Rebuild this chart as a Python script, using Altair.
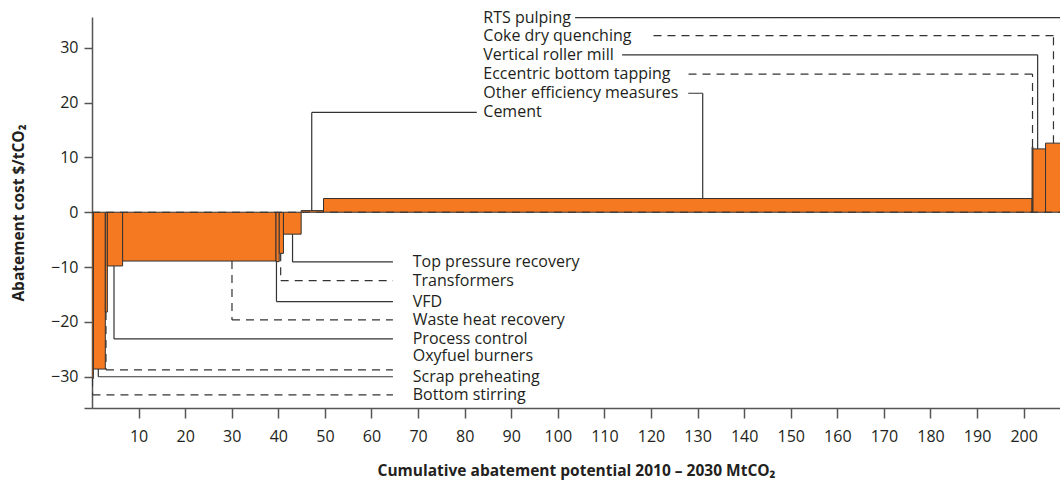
import altair as alt
import pandas as pd
import numpy as np

# ---- Bars (marginal abatement cost curve) ----
measures = ["Bottom stirring", "Scrap preheating", "Oxyfuel burners", "Process control",
            "Waste heat recovery", "VFD", "Transformers", "Top pressure recovery", "Cement",
            "Other efficiency measures", "Eccentric bottom tapping", "Vertical roller mill",
            "Coke dry quenching", "RTS pulping"]
potential = [0.3, 2.56, 0.44, 3.27, 32.93, 0.7, 0.9, 3.8, 4.8, 152.1, 0.2, 2.7, 4.0, 3.0]
cost = [-30.3, -28.6, -18.2, -9.8, -8.9, -9.0, -7.5, -4.0, 0.3, 2.5, 11.9, 11.55, 12.6, 14.0]

# ---- Annotation (label) layout, in data units ----
label_y = [-33.3, -30.0, -28.75, -23.1, -19.64, -16.3, -12.47, -9.06,
           18.2, 21.7, 25.2, 28.7, 32.2, 35.5]
text_y = [-33.3, -30.0, -26.2, -23.1, -19.64, -16.3, -12.47, -9.06,
          18.2, 21.7, 25.2, 28.7, 32.2, 35.5]
leader_x = [0.1, 1.35, 3.0, 4.72, 30.05, 39.6, 40.5, 43.05,
            47.17, 131.1, 201.9, 203.0, 206.4, 209.5]
leader_end = [64.6] * 8 + [82.6, 128.0, 127.3, 113.8, 119.8, 103.7]
text_x = [68.85] * 8 + [84.0] * 6
dashed = [True, False, True, False, True, False, True, False,
          False, False, True, False, True, False]

x_ticks = list(range(10, 201, 10))
y_ticks = [-35.7, -30, -20, -10, 0, 10, 20, 30]
X_DOMAIN = [0, 207.8]
Y_DOMAIN = [-35.7, 35.6]

end = np.cumsum(potential)
start = end - np.array(potential)
bars = pd.DataFrame({"measure": measures, "x0": start, "x1": end, "cost": cost, "zero": 0.0})

ann = pd.DataFrame({
    "measure": measures, "cost": cost, "ly": label_y, "ty": text_y,
    "lx": leader_x, "lend": leader_end, "tx": text_x,
    "style": ["dashed" if d else "solid" for d in dashed],
})

FONT = "Open Sans"
xs = alt.Scale(domain=X_DOMAIN, nice=False, zero=False)
ys = alt.Scale(domain=Y_DOMAIN, nice=False, zero=False)
dash = alt.StrokeDash("style:N", scale=alt.Scale(domain=["solid", "dashed"], range=[[1, 0], [8, 6]]), legend=None)

rects = alt.Chart(bars).mark_rect(clip=True, fill="#F47920", stroke="#333333", strokeWidth=1).encode(
    x=alt.X("x0:Q", scale=xs, axis=alt.Axis(
        values=x_ticks, title="Cumulative abatement potential 2010 – 2030 MtCO₂",
        tickSize=10, labelPadding=10, titlePadding=19, grid=False)),
    x2="x1:Q",
    y=alt.Y("cost:Q", scale=ys, axis=alt.Axis(
        values=y_ticks, title="Abatement cost $/tCO₂", labelExpr="datum.value < -32 ? '' : datum.label",
        tickSize=8, labelPadding=6, titlePadding=24, grid=False)),
    y2="zero:Q",
)

baseline = alt.Chart(pd.DataFrame({"v": [0.0]})).mark_rule(
    color="#333333", strokeWidth=1, strokeDash=[8, 6]).encode(
    y=alt.Y("v:Q", scale=ys), x=alt.value(0), x2=alt.value(968))

vert = alt.Chart(ann).mark_rule(clip=True, color="#333333", strokeWidth=1.2).encode(
    x=alt.X("lx:Q", scale=xs), y=alt.Y("cost:Q", scale=ys), y2="ly:Q", strokeDash=dash)

horiz = alt.Chart(ann).mark_rule(clip=True, color="#333333", strokeWidth=1.2).encode(
    x=alt.X("lx:Q", scale=xs), x2="lend:Q", y=alt.Y("ly:Q", scale=ys), strokeDash=dash)

texts = alt.Chart(ann).mark_text(align="left", baseline="middle", font=FONT, fontSize=16,
                                  color="#231f20").encode(
    x=alt.X("tx:Q", scale=xs), y=alt.Y("ty:Q", scale=ys), text="measure:N")

chart = alt.layer(rects, baseline, vert, horiz, texts).properties(
    width=968, height=391,
    autosize=alt.AutoSizeParams(type="none"),
    padding={"left": 92, "top": 17, "right": 0, "bottom": 76},
).configure_view(stroke=None).configure_axis(
    labelFont=FONT, titleFont=FONT, labelFontSize=16, titleFontSize=15.5, titleFontWeight="bold",
    labelColor="#231f20", titleColor="#231f20", domainColor="#555555", tickColor="#555555",
    domainWidth=1.5, tickWidth=1.5,
)

chart.save("out.html", embed_options={"renderer": "svg", "actions": False})
